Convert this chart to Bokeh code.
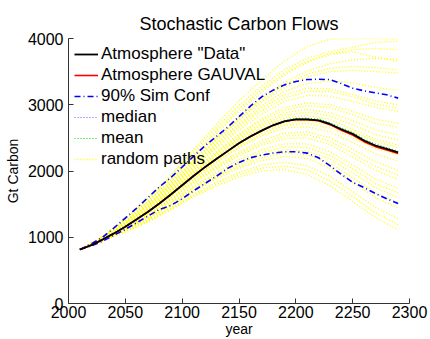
from bokeh.plotting import figure
from bokeh.models import Range1d, FixedTicker, Legend, LegendItem, Label, ColumnDataSource
from bokeh.embed import file_html
from bokeh.resources import INLINE

years = [2010, 2020, 2030, 2040, 2050, 2060, 2070, 2080, 2090, 2100, 2110, 2120, 2130, 2140, 2150,
         2160, 2170, 2180, 2190, 2200, 2210, 2220, 2230, 2240, 2250, 2260, 2270, 2280, 2290]
atm_data = [815, 880, 965, 1058, 1160, 1270, 1385, 1510, 1645, 1785, 1925, 2058, 2180, 2300, 2420,
            2520, 2610, 2690, 2750, 2780, 2780, 2765, 2710, 2630, 2560, 2460, 2385, 2335, 2280]
atm_gauval = [815, 880, 965, 1058, 1160, 1270, 1385, 1510, 1645, 1785, 1925, 2058, 2180, 2300, 2420,
              2520, 2610, 2690, 2750, 2778, 2776, 2758, 2700, 2615, 2542, 2443, 2368, 2318, 2264]
mean_path = [815, 881, 967, 1060, 1162, 1273, 1388, 1514, 1649, 1790, 1930, 2064, 2187, 2307, 2428,
             2530, 2621, 2702, 2764, 2795, 2797, 2783, 2728, 2650, 2580, 2480, 2405, 2354, 2298]
median_path = [815, 880, 964, 1057, 1158, 1268, 1383, 1508, 1642, 1782, 1921, 2054, 2176, 2296, 2415,
               2515, 2605, 2685, 2745, 2775, 2775, 2760, 2705, 2625, 2555, 2455, 2380, 2330, 2275]
conf_upper = [815, 900, 1000, 1140, 1290, 1440, 1600, 1760, 1900, 2060, 2220, 2380, 2520, 2660, 2820,
              2980, 3120, 3220, 3300, 3350, 3380, 3385, 3380, 3320, 3250, 3210, 3180, 3150, 3100]
conf_lower = [815, 870, 940, 1030, 1120, 1220, 1320, 1420, 1480, 1580, 1700, 1810, 1920, 2040, 2130,
              2200, 2240, 2270, 2290, 2290, 2270, 2200, 2080, 1950, 1830, 1750, 1660, 1580, 1510]

path_years = [2010, 2030, 2050, 2070, 2090, 2110, 2130, 2150, 2170, 2190, 2210, 2230, 2250, 2270, 2290]
random_paths = [
    [815, 1010, 1270, 1570, 1910, 2290, 2650, 2990, 3280, 3530, 3700, 3800, 3870, 3940, 3960],
    [815, 1000, 1240, 1530, 1860, 2210, 2560, 2900, 3190, 3450, 3640, 3760, 3800, 3720, 3650],
    [815, 990, 1220, 1490, 1800, 2130, 2460, 2770, 3040, 3260, 3420, 3500, 3520, 3500, 3480],
    [815, 985, 1210, 1470, 1760, 2080, 2400, 2690, 2950, 3150, 3250, 3240, 3150, 3060, 3000],
    [815, 980, 1200, 1450, 1730, 2040, 2340, 2620, 2860, 3050, 3140, 3130, 3050, 2960, 2900],
    [815, 978, 1190, 1430, 1710, 2010, 2290, 2560, 2790, 2960, 3030, 3000, 2900, 2780, 2720],
    [815, 975, 1180, 1420, 1690, 1980, 2250, 2510, 2720, 2880, 2930, 2880, 2760, 2620, 2550],
    [815, 972, 1170, 1400, 1660, 1950, 2210, 2460, 2660, 2800, 2840, 2780, 2630, 2480, 2390],
    [815, 968, 1165, 1395, 1640, 1910, 2170, 2400, 2590, 2720, 2760, 2700, 2590, 2450, 2350],
    [815, 965, 1150, 1370, 1620, 1880, 2120, 2350, 2530, 2650, 2670, 2590, 2430, 2260, 2150],
    [815, 962, 1140, 1350, 1590, 1850, 2080, 2290, 2460, 2570, 2590, 2500, 2330, 2140, 2010],
    [815, 960, 1130, 1330, 1560, 1810, 2030, 2230, 2390, 2490, 2500, 2400, 2210, 2010, 1870],
    [815, 958, 1120, 1310, 1530, 1770, 1980, 2170, 2320, 2410, 2410, 2290, 2090, 1880, 1740],
    [815, 955, 1110, 1290, 1500, 1730, 1930, 2100, 2240, 2320, 2300, 2180, 1970, 1750, 1600],
    [815, 952, 1100, 1270, 1470, 1690, 1880, 2040, 2160, 2220, 2190, 2050, 1830, 1600, 1440],
    [815, 950, 1090, 1250, 1440, 1650, 1830, 1980, 2090, 2130, 2080, 1920, 1690, 1450, 1280],
    [815, 948, 1080, 1230, 1410, 1610, 1770, 1910, 2000, 2020, 1950, 1780, 1540, 1300, 1110],
    [815, 995, 1230, 1510, 1830, 2170, 2510, 2820, 3100, 3340, 3510, 3620, 3680, 3700, 3690],
    [815, 982, 1205, 1460, 1745, 2060, 2370, 2660, 2910, 3100, 3200, 3200, 3120, 3010, 2950],
    [815, 974, 1175, 1410, 1675, 1965, 2230, 2485, 2690, 2840, 2890, 2830, 2700, 2550, 2470],
    [815, 1005, 1255, 1550, 1880, 2250, 2600, 2940, 3230, 3480, 3660, 3770, 3830, 3850, 3830],
    [815, 992, 1225, 1500, 1815, 2150, 2480, 2790, 3070, 3300, 3460, 3550, 3580, 3560, 3530],
    [815, 987, 1215, 1480, 1780, 2100, 2420, 2720, 2990, 3200, 3320, 3360, 3330, 3260, 3220],
    [815, 976, 1185, 1425, 1700, 1995, 2270, 2535, 2760, 2920, 2990, 2960, 2850, 2720, 2660],
    [815, 966, 1155, 1380, 1630, 1895, 2140, 2370, 2560, 2690, 2720, 2650, 2500, 2340, 2240],
    [815, 961, 1135, 1340, 1575, 1830, 2055, 2260, 2420, 2530, 2550, 2450, 2270, 2070, 1940],
    [815, 957, 1115, 1300, 1515, 1750, 1955, 2135, 2280, 2365, 2355, 2235, 2030, 1810, 1670],
    [815, 953, 1105, 1280, 1485, 1710, 1905, 2070, 2200, 2270, 2245, 2115, 1900, 1670, 1520],
    [815, 949, 1085, 1240, 1425, 1630, 1800, 1945, 2045, 2075, 2015, 1850, 1615, 1370, 1190],
    [815, 1015, 1280, 1590, 1940, 2330, 2700, 3060, 3380, 3660, 3880, 3990, 4000, 4000, 3990],
]

x_ticks = [2000, 2050, 2100, 2150, 2200, 2250, 2300]
y_ticks = [0, 1000, 2000, 3000, 4000]

FONT = "Liberation Sans"

p = figure(width=430, height=339, output_backend="svg", toolbar_location=None,
           x_range=Range1d(2000, 2300), y_range=Range1d(0, 4000),
           min_border_left=68, min_border_right=21, min_border_top=38, min_border_bottom=36)
p.outline_line_color = None
p.grid.visible = False
p.background_fill_color = "white"
p.border_fill_color = "white"

p.title.text = "Stochastic Carbon Flows"
p.title.align = "center"
p.title.text_font = FONT
p.title.text_font_size = "18px"
p.title.text_font_style = "normal"
p.title.text_color = "black"

for ax, ticks in ((p.xaxis[0], x_ticks), (p.yaxis[0], y_ticks)):
    ax.ticker = FixedTicker(ticks=ticks)
    ax.major_tick_in = 5
    ax.major_tick_out = 0
    ax.minor_tick_line_color = None
    ax.axis_line_color = "#333333"
    ax.major_tick_line_color = "#333333"
    ax.major_label_text_font = FONT
    ax.major_label_text_font_size = "16px"
    ax.major_label_text_color = "black"
    ax.axis_label_text_font = FONT
    ax.axis_label_text_font_size = "14px"
    ax.axis_label_text_font_style = "normal"
    ax.axis_label_text_color = "black"
p.xaxis.axis_label = "year"
p.yaxis.axis_label = "Gt Carbon"
p.xaxis.major_label_standoff = 2
p.xaxis.axis_label_standoff = 0
p.yaxis.major_label_standoff = 5
p.yaxis.axis_label_standoff = 4

src = ColumnDataSource(dict(xs=[path_years] * len(random_paths), ys=random_paths))
r_rand = p.multi_line("xs", "ys", source=src, line_color="#ffff00", line_width=1.3, line_dash="1 2")
r_up = p.line(years, conf_upper, line_color="#0000ff", line_width=1.6, line_dash="6 3 1 3")
r_lo = p.line(years, conf_lower, line_color="#0000ff", line_width=1.6, line_dash="6 3 1 3")
r_med = p.line(years, median_path, line_color="#6060ff", line_width=1, line_dash="1 2")
r_mean = p.line(years, mean_path, line_color="#00dd00", line_width=1.2, line_dash="1 2")
r_gau = p.line(years, atm_gauval, line_color="#ff0000", line_width=1.6)
r_data = p.line(years, atm_data, line_color="black", line_width=1.8)

legend = Legend(items=[
    LegendItem(label='Atmosphere "Data"', renderers=[r_data]),
    LegendItem(label="Atmosphere GAUVAL", renderers=[r_gau]),
    LegendItem(label="90% Sim Conf", renderers=[r_up]),
    LegendItem(label="median", renderers=[r_med]),
    LegendItem(label="mean", renderers=[r_mean]),
    LegendItem(label="random paths", renderers=[r_rand]),
], location="top_left")
legend.background_fill_alpha = 0
legend.border_line_alpha = 0
legend.margin = 0
legend.padding = 6
legend.glyph_width = 24
legend.glyph_height = 20
legend.label_height = 20
legend.spacing = 1
legend.label_standoff = 3
legend.label_text_font = FONT
legend.label_text_font_size = "17px"
legend.label_text_color = "black"
p.add_layout(legend)

p.add_layout(Label(x=2299, y=4015, text="V", text_font="Liberation Serif",
                   text_font_size="28px", text_color="black", text_baseline="bottom"))

open("out.html", "w").write(file_html(p, INLINE))
